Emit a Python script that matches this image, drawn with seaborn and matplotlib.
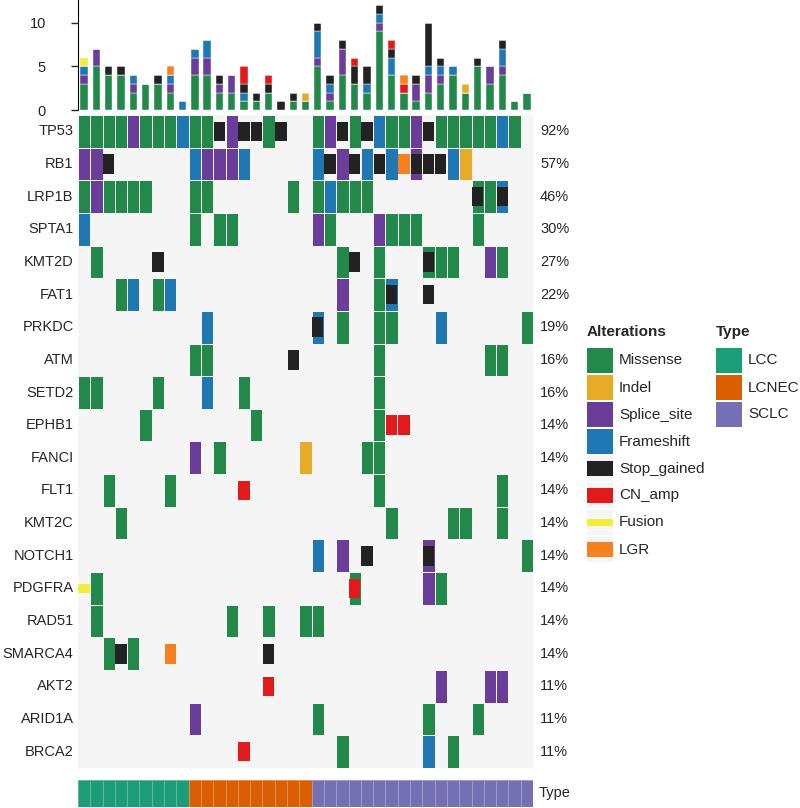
import numpy as np
import pandas as pd
import seaborn as sns
import matplotlib.pyplot as plt
from matplotlib.colors import ListedColormap
from matplotlib.patches import Rectangle

genes = ["TP53", "RB1", "LRP1B", "SPTA1", "KMT2D", "FAT1", "PRKDC", "ATM",
         "SETD2", "EPHB1", "FANCI", "FLT1", "KMT2C", "NOTCH1", "PDGFRA",
         "RAD51", "SMARCA4", "AKT2", "ARID1A", "BRCA2"]
n_samples = 37
type_names = ["LCC", "LCNEC", "SCLC"]
type_sizes = [9, 10, 18]

# gene -> sample columns (0-based, left to right)
missense = {
    "TP53": [0, 1, 2, 3, 5, 6, 7, 9, 10, 15, 19, 22, 25, 26, 29, 30, 31, 32, 33, 35],
    "LRP1B": [0, 2, 3, 4, 5, 9, 10, 17, 19, 21, 22, 23, 32, 33],
    "SPTA1": [9, 11, 12, 20, 25, 26, 27, 32],
    "KMT2D": [1, 21, 24, 28, 29, 30, 34],
    "FAT1": [3, 6, 24],
    "PRKDC": [21, 24, 25, 36],
    "ATM": [9, 10, 24, 33, 34],
    "SETD2": [0, 1, 6, 13, 24],
    "EPHB1": [5, 14, 24],
    "FANCI": [11, 23, 24],
    "FLT1": [2, 7, 24, 34],
    "KMT2C": [3, 25, 30, 31, 34],
    "NOTCH1": [36],
    "PDGFRA": [1, 22, 29],
    "RAD51": [1, 12, 15, 18, 19],
    "SMARCA4": [2, 4],
    "ARID1A": [19, 28, 32],
    "BRCA2": [21, 30],
}
splice_site = {
    "TP53": [4, 12, 20, 27],
    "RB1": [0, 1, 10, 11, 12, 21, 27],
    "LRP1B": [1],
    "SPTA1": [19, 24],
    "KMT2D": [33],
    "FAT1": [21],
    "FANCI": [9],
    "NOTCH1": [21, 28],
    "PDGFRA": [28],
    "AKT2": [29, 33, 34],
    "ARID1A": [9],
}
frameshift = {
    "TP53": [8, 24, 34],
    "RB1": [9, 13, 19, 23, 25, 30],
    "LRP1B": [20, 34],
    "SPTA1": [0],
    "FAT1": [4, 7, 25],
    "PRKDC": [10, 19, 29],
    "SETD2": [10],
    "NOTCH1": [19],
    "BRCA2": [28],
}
indel = {"RB1": [31], "FANCI": [18]}
stop_gained = {
    "TP53": [11, 13, 14, 16, 21, 23, 28],
    "RB1": [2, 20, 22, 24, 27, 28, 29],
    "LRP1B": [32, 34],
    "KMT2D": [6, 22, 28],
    "FAT1": [25, 28],
    "PRKDC": [19],
    "ATM": [17],
    "NOTCH1": [23, 28],
    "SMARCA4": [3, 15],
}
cn_amp = {"EPHB1": [25, 26], "FLT1": [13], "PDGFRA": [22], "AKT2": [15], "BRCA2": [13]}
fusion = {"PDGFRA": [0]}
lgr = {"RB1": [26], "SMARCA4": [7]}

# hits in genes not shown, only counted in the top bars
extra_missense = [10, 19, 24, 32]
extra_splice = [7, 10]

alt_order = ["Missense", "Indel", "Splice_site", "Frameshift",
             "Stop_gained", "CN_amp", "Fusion", "LGR"]
alt_colors = {"Missense": "#22894A", "Indel": "#E6AC28", "Splice_site": "#6A3D9A",
              "Frameshift": "#1F78B4", "Stop_gained": "#222222", "CN_amp": "#E31A1C",
              "Fusion": "#F2EC3A", "LGR": "#F7811E"}
type_colors = ["#1B9E77", "#D95F02", "#7570B3"]
bg = "#F5F5F5"

alterations = {"Missense": missense, "Indel": indel, "Splice_site": splice_site,
               "Frameshift": frameshift, "Stop_gained": stop_gained,
               "CN_amp": cn_amp, "Fusion": fusion, "LGR": lgr}
full_alts = ["Missense", "Indel", "Splice_site", "Frameshift"]
short_alts = {"Stop_gained": 0.6, "CN_amp": 0.6, "LGR": 0.6, "Fusion": 0.3}
stack_order = ["Missense", "Splice_site", "Frameshift", "Stop_gained",
               "CN_amp", "Indel", "LGR", "Fusion"]

rows = []
for alt, table in alterations.items():
    for g, samples in table.items():
        for s in samples:
            rows.append((g, s, alt))
df = pd.DataFrame(rows, columns=["gene", "sample", "alt"])
df["row"] = df.gene.map(genes.index)

base = np.zeros((len(genes), n_samples))
for code, alt in enumerate(full_alts, start=1):
    sub = df[df.alt == alt]
    base[sub.row, sub["sample"]] = code

pct = df.groupby("gene")["sample"].nunique() / n_samples * 100

sns.set_style("white")
plt.rcParams["font.family"] = ["Liberation Sans", "DejaVu Sans"]
plt.rcParams["font.size"] = 10
plt.rcParams["axes.axisbelow"] = False

fig = plt.figure(figsize=(8, 8.08), dpi=100)


def px(l, t, w, h):
    return [l / 800, 1 - (t + h) / 808, w / 800, h / 808]


ax_leg = fig.add_axes([0, 0, 1, 1])
ax_leg.set_xlim(0, 800)
ax_leg.set_ylim(808, 0)
ax_leg.axis("off")

ax_bar = fig.add_axes(px(78, 0, 455, 110))
ax = fig.add_axes(px(78, 115, 455, 653))
ax_type = fig.add_axes(px(78, 780, 455, 27))

# main oncoprint
cmap = ListedColormap([bg] + [alt_colors[a] for a in full_alts])
sns.heatmap(base, ax=ax, cmap=cmap, vmin=-0.5, vmax=4.5, cbar=False,
            linewidths=0.6, linecolor=bg, xticklabels=False, yticklabels=genes)
for alt, h in short_alts.items():
    sub = df[df.alt == alt]
    ax.bar(sub["sample"] + 0.5, h, bottom=sub.row + (1 - h) / 2, width=0.92,
           color=alt_colors[alt], linewidth=0)
ax.tick_params(axis="y", length=0, pad=3.2, labelsize=10.5)
for lbl in ax.get_yticklabels():
    lbl.set_rotation(0)
for i, g in enumerate(genes):
    ax.text(1 + 7 / 455, i + 0.5, f"{pct[g]:.0f}%", transform=ax.get_yaxis_transform(),
            va="center", ha="left", fontsize=10.5)

# type annotation
type_codes = np.repeat(np.arange(3), type_sizes)[None, :]
sns.heatmap(type_codes, ax=ax_type, cmap=ListedColormap(type_colors), vmin=-0.5, vmax=2.5,
            cbar=False, linewidths=0.5, linecolor=(1, 1, 1, 0.3),
            xticklabels=False, yticklabels=False)
ax_type.text(1 + 6 / 455, 0.5, "Type", transform=ax_type.transAxes,
             va="center", ha="left", fontsize=10.5)

# top stacked bars
extra = pd.DataFrame({"sample": extra_missense + extra_splice,
                      "alt": ["Missense"] * len(extra_missense) + ["Splice_site"] * len(extra_splice)})
bar_df = pd.concat([df[["sample", "alt"]], extra], ignore_index=True)
sns.histplot(bar_df, x="sample", hue="alt", hue_order=stack_order[::-1], multiple="stack",
             discrete=True, shrink=0.6, binrange=(0, n_samples - 1), palette=alt_colors,
             legend=False, ax=ax_bar, alpha=1, edgecolor="white", linewidth=0.3)
ax_bar.set_xlim(-0.5, n_samples - 0.5)
ax_bar.set_ylim(0, 12.6)
ax_bar.set_yticks([0, 5, 10])
ax_bar.set_xticks([])
ax_bar.set_xlabel("")
ax_bar.set_ylabel("")
for side in ["top", "right", "bottom"]:
    ax_bar.spines[side].set_visible(False)
ax_bar.spines["left"].set_color("black")
ax_bar.tick_params(axis="y", left=True, length=5, width=1, pad=18, labelsize=10.5)

# legends
ax_leg.text(587, 332, "Alterations", fontweight="bold", va="center", fontsize=11)
for k, alt in enumerate(alt_order):
    y0 = 348 + 27 * k
    ax_leg.add_patch(Rectangle((587, y0), 26, 25, color=bg, lw=0))
    h = short_alts.get(alt, 1.0) * 25
    ax_leg.add_patch(Rectangle((587, y0 + (25 - h) / 2), 26, h, color=alt_colors[alt], lw=0))
    ax_leg.text(619, y0 + 12.5, alt, va="center", fontsize=11)
ax_leg.text(716, 332, "Type", fontweight="bold", va="center", fontsize=11)
for k, t in enumerate(type_names):
    y0 = 348 + 27 * k
    ax_leg.add_patch(Rectangle((716, y0), 26, 25, color=type_colors[k], lw=0))
    ax_leg.text(748, y0 + 12.5, t, va="center", fontsize=11)

fig.savefig("out.png", dpi=100)
